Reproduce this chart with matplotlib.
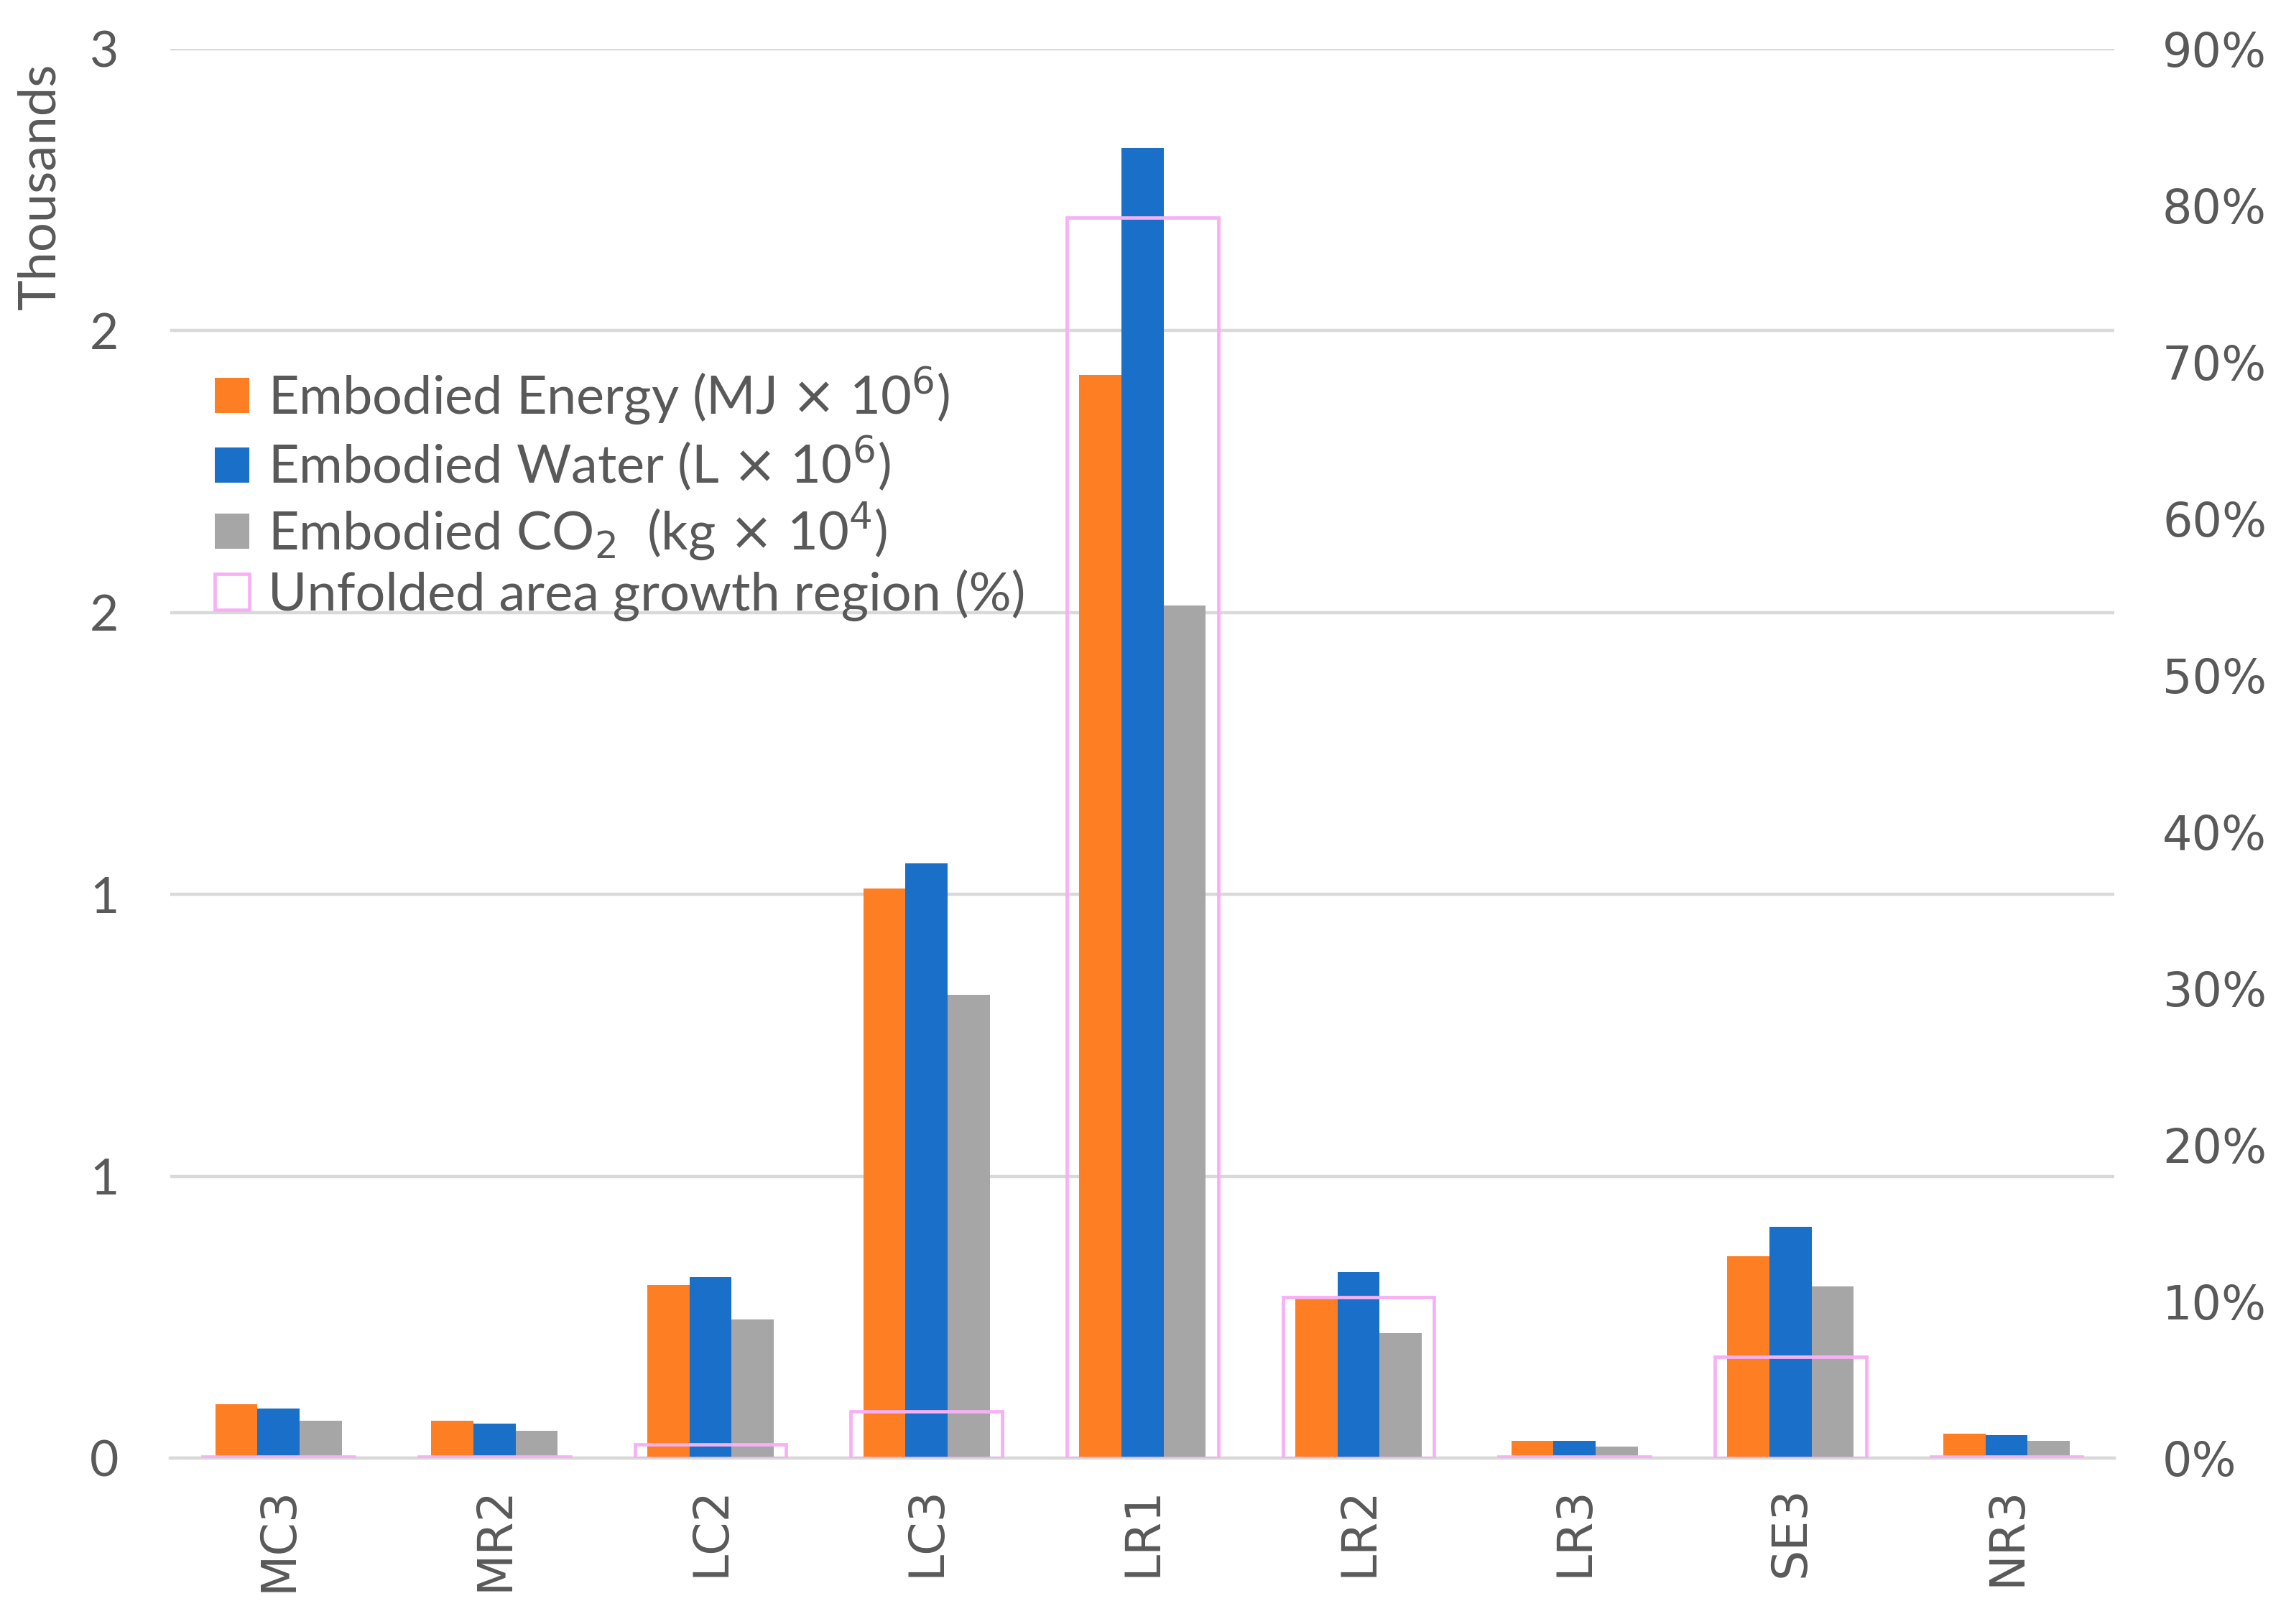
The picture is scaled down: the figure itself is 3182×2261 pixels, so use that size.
import math
import matplotlib
matplotlib.use("Agg")
import matplotlib.pyplot as plt
import numpy as np
from matplotlib.patches import Patch
from matplotlib.ticker import FuncFormatter, PercentFormatter

# values
categories = ["MC3", "MR2", "LC2", "LC3", "LR1", "LR2", "LR3", "SE3", "NR3"]
energy = [96, 67, 308, 1011, 1921, 287, 31, 359, 44]      # MJ x 10^6
water = [88, 62, 321, 1055, 2324, 331, 31, 411, 41]       # L x 10^6
co2 = [67, 49, 246, 822, 1512, 222, 21, 305, 31]          # kg x 10^4
unfolded = [0.1, 0.1, 0.9, 3.0, 79.2, 10.3, 0.1, 6.5, 0.1]  # %

ORANGE = "#FD7E23"
BLUE = "#1A70C8"
GRAY = "#A6A6A6"
PINK = "#F7B0F4"
TEXT = "#595959"
GRID = "#D9D9D9"

plt.rcParams["font.family"] = ["Lato", "DejaVu Sans"]

fig = plt.figure(figsize=(15.91, 11.305), dpi=200)
ax = fig.add_axes([0.0746, 0.102, 0.8504, 0.868])

x = np.arange(len(categories))
w = 0.195
ax.bar(x - w, energy, w, color=ORANGE, zorder=3)
ax.bar(x, water, w, color=BLUE, zorder=3)
ax.bar(x + w, co2, w, color=GRAY, zorder=3)

ax.set_xlim(-0.5, len(categories) - 0.5)
ax.set_ylim(0, 2500)
ax.set_yticks(np.arange(0, 2501, 500))
ax.yaxis.set_major_formatter(FuncFormatter(lambda v, p: f"{int(math.floor(v / 1000 + 0.5))}"))
ax.yaxis.grid(True, color=GRID, linewidth=1.6, zorder=0)
ax.set_axisbelow(True)
for s in ["top", "left", "right"]:
    ax.spines[s].set_visible(False)
ax.spines["bottom"].set_color(GRID)
ax.spines["bottom"].set_linewidth(1.6)
ax.tick_params(axis="y", length=0, pad=26, labelsize=25, labelcolor=TEXT)
ax.tick_params(axis="x", length=0, pad=14, labelcolor=TEXT)
ax.set_xticks(x)
ax.set_xticklabels(categories, rotation=90, fontsize=24, family="DejaVu Sans", va="top")

ax.text(-0.067, 0.99, "Thousands", transform=ax.transAxes, rotation=90,
        ha="center", va="top", fontsize=26, color=TEXT)

# right axis: unfolded area growth, hollow pink boxes
ax2 = ax.twinx()
ax2.bar(x, unfolded, 0.70, fill=False, edgecolor=PINK, linewidth=1.7, zorder=4)
ax2.set_ylim(0, 90)
ax2.set_yticks(np.arange(0, 91, 10))
ax2.yaxis.set_major_formatter(PercentFormatter(decimals=0))
for s in ["top", "left", "right", "bottom"]:
    ax2.spines[s].set_visible(False)
ax2.tick_params(axis="y", length=0, pad=24, labelsize=23.5, labelcolor=TEXT)
for lbl in ax2.get_yticklabels():
    lbl.set_family("DejaVu Sans")

handles = [
    Patch(facecolor=ORANGE, edgecolor="none"),
    Patch(facecolor=BLUE, edgecolor="none"),
    Patch(facecolor=GRAY, edgecolor="none"),
    Patch(facecolor="white", edgecolor=PINK, linewidth=1.7),
]
labels = [
    r"Embodied Energy (MJ $\times$ 10$^6$)",
    r"Embodied Water (L $\times$ 10$^6$)",
    r"Embodied CO$_2$  (kg $\times$ 10$^4$)",
    "Unfolded area growth region (%)",
]
leg = ax2.legend(handles, labels, loc="upper left", bbox_to_anchor=(0.012, 0.791),
                 frameon=False, fontsize=26.6, handlelength=0.65, handleheight=0.65,
                 handletextpad=0.35, labelspacing=0.14, borderaxespad=0)
for t in leg.get_texts():
    t.set_color(TEXT)

fig.savefig("out.png", dpi=200)
